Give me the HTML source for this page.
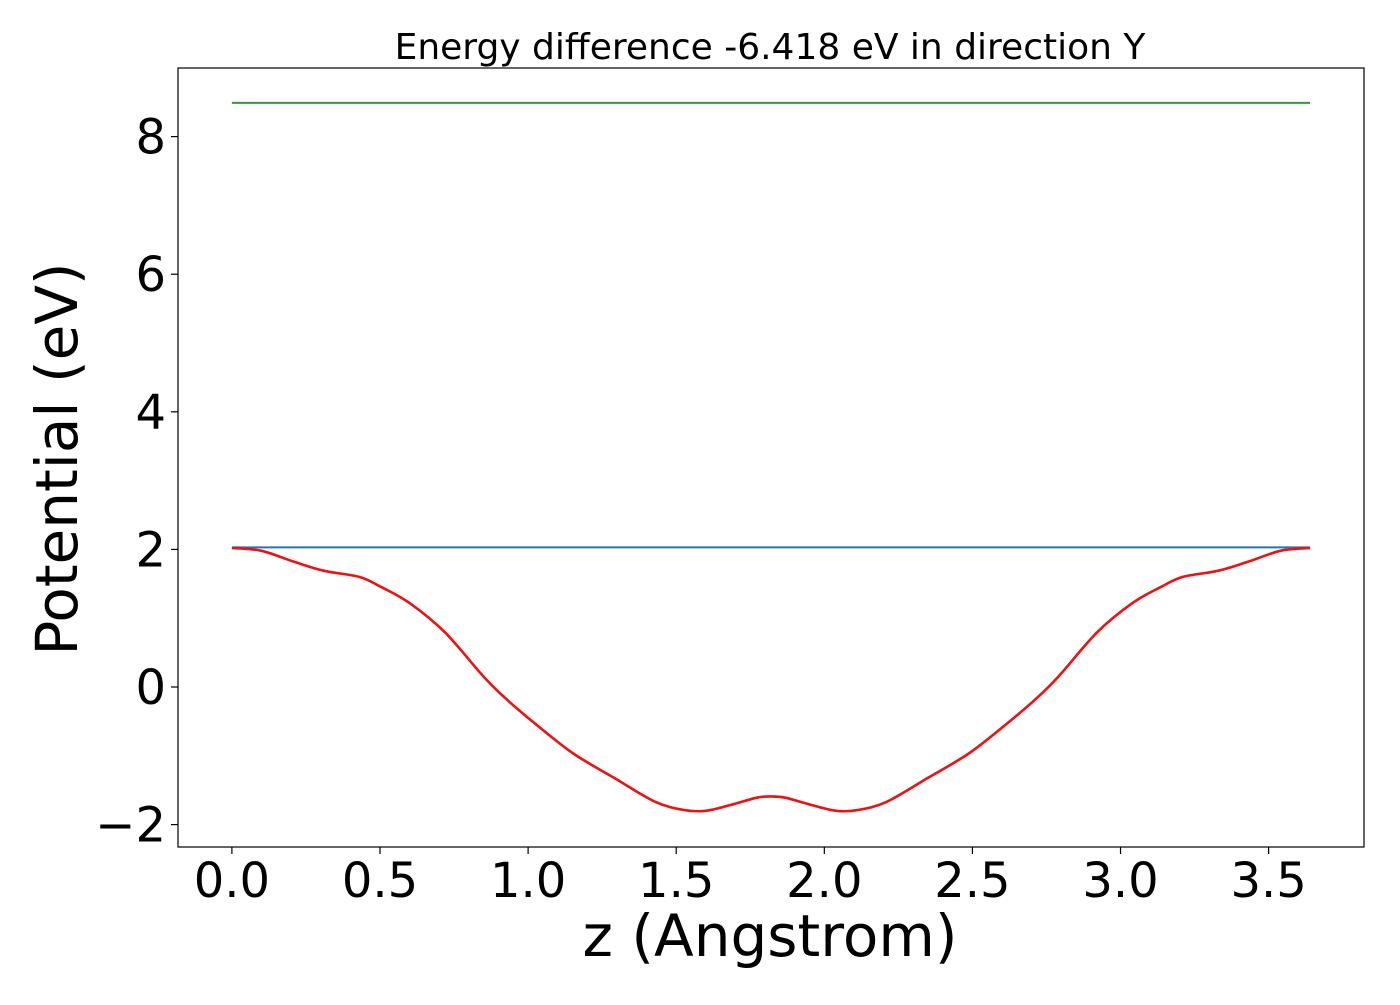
<!DOCTYPE html>
<html><head><meta charset="utf-8"><style>
html,body{margin:0;padding:0;background:#fff;}
svg text{font-family:"DejaVu Sans","Liberation Sans",sans-serif;fill:#000;}
</style></head><body>
<svg id="chart" width="1400" height="1000" xmlns="http://www.w3.org/2000/svg">
<rect width="1400" height="1000" fill="#fff"/>
<text x="770" y="59" font-size="36" text-anchor="middle">Energy difference -6.418 eV in direction Y</text>
<g id="plot"></g>
<text x="770" y="956" font-size="58" text-anchor="middle">z (Angstrom)</text>
<text transform="translate(77,459) rotate(-90)" font-size="58" text-anchor="middle">Potential (eV)</text>
</svg>
<script>
const leftX = [0,0.10,0.21,0.31,0.43,0.505,0.60,0.72,0.85,0.93,1.02,1.15,1.29,1.43,1.53,1.60,1.68,1.77,1.82];
const leftV = [2.02,1.98,1.82,1.69,1.60,1.45,1.22,0.79,0.15,-0.19,-0.52,-0.96,-1.32,-1.67,-1.79,-1.80,-1.72,-1.61,-1.59];
const zMax = 3.64;
const blueLevel = 2.03;
const greenLevel = 8.49;
const xTicks = [0,0.5,1.0,1.5,2.0,2.5,3.0,3.5];
const xTickLabels = ["0.0","0.5","1.0","1.5","2.0","2.5","3.0","3.5"];
const yTicks = [-2,0,2,4,6,8];
const yTickLabels = ["\u22122","0","2","4","6","8"];

const NS="http://www.w3.org/2000/svg";
const L=178,R=1364,T=68,B=847;
const xmin=-0.05*zMax, xmax=1.05*zMax;
function sx(v){return L+(v-xmin)/(xmax-xmin)*(R-L);}
function sy(v){return 687-v*68.8;}
const g=document.getElementById('plot');
function mk(tag,attrs){const e=document.createElementNS(NS,tag);for(const k in attrs)e.setAttribute(k,attrs[k]);g.appendChild(e);return e;}

const zs=[],vs=[];
for(let i=0;i<leftX.length;i++){zs.push(leftX[i]);vs.push(leftV[i]);}
for(let i=leftX.length-2;i>=0;i--){zs.push(zMax-leftX[i]);vs.push(leftV[i]);}

let el=mk('line',{x1:sx(0),x2:sx(zMax),y1:sy(greenLevel),y2:sy(greenLevel),stroke:'#2ca02c','stroke-width':2});


el=mk('line',{x1:sx(0),x2:sx(zMax),y1:sy(blueLevel),y2:sy(blueLevel),stroke:'#1f77b4','stroke-width':2});



const P=zs.map((z,i)=>[sx(z),sy(vs[i])]);
let d='M'+P[0][0].toFixed(1)+','+P[0][1].toFixed(1);
for(let i=0;i<P.length-1;i++){
  const p0=P[Math.max(i-1,0)],p1=P[i],p2=P[i+1],p3=P[Math.min(i+2,P.length-1)];
  const c1=[p1[0]+(p2[0]-p0[0])/6,p1[1]+(p2[1]-p0[1])/6];
  const c2=[p2[0]-(p3[0]-p1[0])/6,p2[1]-(p3[1]-p1[1])/6];
  d+=' C'+c1[0].toFixed(1)+','+c1[1].toFixed(1)+' '+c2[0].toFixed(1)+','+c2[1].toFixed(1)+' '+p2[0].toFixed(1)+','+p2[1].toFixed(1);
}
el=mk('path',{d:d,fill:'none',stroke:'#ee1111','stroke-width':2.6,'stroke-linejoin':'round'});



el=mk('rect',{x:L,y:T,width:R-L,height:B-T,fill:'none',stroke:'#000','stroke-width':1.2});



xTicks.forEach((t,i)=>{
  const x=sx(t);
  let l=mk('line',{x1:x,x2:x,y1:B,y2:B+7,stroke:'#000','stroke-width':1.2});
  
  
  let tx=mk('text',{x:x,y:897,'font-size':48,'text-anchor':'middle'});
  tx.textContent=xTickLabels[i];
  
  
});
yTicks.forEach((t,i)=>{
  const y=sy(t);
  let l=mk('line',{x1:L-7,x2:L,y1:y,y2:y,stroke:'#000','stroke-width':1.2});
  
  
  let tx=mk('text',{x:L-12,y:y+17,'font-size':48,'text-anchor':'end'});
  tx.textContent=yTickLabels[i];
  
  
});
</script>
</body></html>
